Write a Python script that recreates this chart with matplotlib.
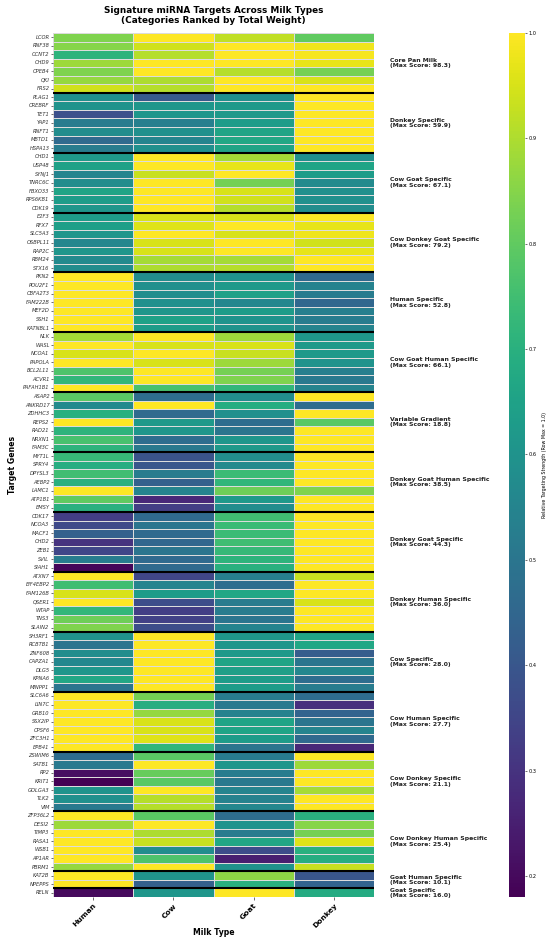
import matplotlib
matplotlib.use("Agg")
import matplotlib.pyplot as plt
import numpy as np
import pandas as pd
import seaborn as sns

milk_types = ["Human", "Cow", "Goat", "Donkey"]

group_names = ["Core Pan Milk", "Donkey Specific", "Cow Goat Specific", "Cow Donkey Goat Specific",
               "Human Specific", "Cow Goat Human Specific", "Variable Gradient",
               "Donkey Goat Human Specific", "Donkey Goat Specific", "Donkey Human Specific",
               "Cow Specific", "Cow Human Specific", "Cow Donkey Specific",
               "Cow Donkey Human Specific", "Goat Human Specific", "Goat Specific"]
group_sizes = [7, 7, 7, 7, 7, 7, 7, 7, 7, 7, 7, 7, 7, 7, 2, 1]
group_scores = [98.3, 59.9, 67.1, 79.2, 52.8, 66.1, 18.8, 38.5, 44.3, 36.0, 28.0, 27.7, 21.1, 25.4, 10.1, 16.0]

genes = ["LCOR", "RNF38", "CCNT2", "CHD9", "CPEB4", "QKI", "FRS2",
         "PLAG1", "CREBRF", "TET1", "YAP1", "RNFT1", "MBTD1", "HSPA13",
         "CHD1", "USP48", "SYNJ1", "TNRC6C", "FBXO33", "RPS6KB1", "CDK19",
         "E2F3", "RFX7", "SLC5A3", "OSBPL11", "RAP2C", "RBM24", "STX16",
         "PKN2", "POU2F1", "CBFA2T3", "FAM222B", "MEF2D", "SSH1", "KATNBL1",
         "NLK", "WASL", "NCOA1", "PAPOLA", "BCL2L11", "ACVR1", "PAFAH1B1",
         "ASAP2", "ANKRD17", "ZDHHC3", "REPS2", "RAD21", "NRXN1", "FAM3C",
         "MYT1L", "SPRY4", "DPYSL3", "AEBP2", "LAMC1", "ATP1B1", "EMSY",
         "CDK17", "NCOA3", "MACF1", "CHD2", "ZEB1", "SVIL", "SIAH1",
         "ATXN7", "EIF4EBP2", "FAM126B", "QSER1", "WTAP", "TNS3", "SLAIN2",
         "SH3RF1", "RCBTB1", "ZNF608", "CAPZA1", "DLG5", "KPNA6", "MINPP1",
         "SLC6A6", "LIN7C", "GRB10", "SSX2IP", "CPSF6", "ZFC3H1", "EPB41",
         "ZSWIM6", "SATB1", "RP2", "KRIT1", "GOLGA3", "TLK2", "VIM",
         "ZFP36L2", "DESI2", "TIMP3", "RASA1", "WSB1", "AP1AR", "PBRM1",
         "KAT2B", "NPEPPS",
         "RELN"]

human = [0.84, 0.85, 0.71, 0.88, 0.84, 0.87, 0.94,
         0.59, 0.60, 0.38, 0.52, 0.58, 0.46, 0.52,
         0.62, 0.65, 0.55, 0.58, 0.66, 0.63, 0.61,
         0.63, 0.64, 0.61, 0.56, 0.61, 0.57, 0.58,
         1.00, 1.00, 1.00, 1.00, 1.00, 1.00, 1.00,
         0.89, 1.00, 0.95, 1.00, 0.77, 0.72, 1.00,
         0.79, 0.57, 0.70, 1.00, 0.71, 0.76, 0.71,
         0.73, 0.69, 0.75, 0.70, 1.00, 0.80, 0.70,
         0.33, 0.36, 0.43, 0.30, 0.35, 0.52, 0.19,
         1.00, 0.75, 0.95, 1.00, 0.72, 0.82, 0.84,
         0.60, 0.50, 0.58, 0.56, 0.61, 0.67, 0.50,
         1.00, 1.00, 1.00, 1.00, 1.00, 1.00, 1.00,
         0.47, 0.51, 0.21, 0.18, 0.60, 0.59, 0.51,
         1.00, 0.88, 1.00, 1.00, 1.00, 1.00, 0.87,
         1.00, 1.00,
         0.20]

cow = [1.00, 0.94, 0.91, 1.00, 1.00, 0.90, 0.91,
       0.41, 0.61, 0.61, 0.53, 0.59, 0.55, 0.59,
       1.00, 1.00, 0.93, 1.00, 1.00, 1.00, 1.00,
       0.95, 0.96, 1.00, 0.95, 0.95, 0.89, 0.90,
       0.58, 0.59, 0.58, 0.59, 0.61, 0.65, 0.63,
       1.00, 0.95, 1.00, 0.95, 1.00, 1.00, 0.76,
       0.47, 1.00, 0.46, 0.62, 0.61, 0.47, 0.51,
       0.39, 0.40, 0.52, 0.43, 0.55, 0.27, 0.33,
       0.46, 0.50, 0.46, 0.45, 0.50, 0.46, 0.46,
       0.35, 0.55, 0.63, 0.37, 0.33, 0.34, 0.37,
       1.00, 1.00, 1.00, 1.00, 1.00, 1.00, 1.00,
       0.83, 0.69, 0.87, 0.95, 0.95, 0.96, 0.72,
       0.79, 1.00, 0.81, 0.79, 1.00, 0.91, 0.91,
       0.79, 1.00, 0.90, 0.93, 0.58, 0.77, 1.00,
       0.60, 0.43,
       0.61]

goat = [0.92, 1.00, 1.00, 1.00, 0.91, 1.00, 1.00,
        0.59, 0.62, 0.62, 0.63, 0.66, 0.67, 0.66,
        0.89, 0.97, 1.00, 0.83, 0.95, 0.94, 0.91,
        0.95, 1.00, 0.95, 1.00, 1.00, 0.89, 0.91,
        0.60, 0.62, 0.65, 0.56, 0.63, 0.60, 0.60,
        0.88, 0.95, 0.93, 0.88, 0.83, 0.84, 0.72,
        0.58, 0.69, 0.59, 0.47, 0.50, 0.61, 0.62,
        0.58, 0.57, 0.74, 0.72, 0.82, 0.62, 0.58,
        0.75, 0.74, 0.74, 0.75, 0.73, 0.71, 0.70,
        0.53, 0.47, 0.67, 0.52, 0.52, 0.50, 0.55,
        0.61, 0.61, 0.62, 0.66, 0.64, 0.63, 0.63,
        0.52, 0.51, 0.54, 0.66, 0.66, 0.63, 0.50,
        0.52, 0.61, 0.52, 0.51, 0.55, 0.54, 0.56,
        0.47, 0.60, 0.52, 0.67, 0.37, 0.25, 0.60,
        0.86, 0.70,
        1.00]

donkey = [0.80, 0.98, 0.99, 0.97, 0.83, 0.95, 1.00,
          1.00, 1.00, 1.00, 1.00, 1.00, 1.00, 1.00,
          0.59, 0.66, 0.63, 0.57, 0.59, 0.59, 0.58,
          1.00, 0.97, 0.98, 0.94, 0.97, 1.00, 1.00,
          0.46, 0.54, 0.52, 0.45, 0.53, 0.52, 0.55,
          0.61, 0.62, 0.62, 0.60, 0.53, 0.51, 0.55,
          1.00, 0.47, 1.00, 0.79, 1.00, 1.00, 1.00,
          1.00, 1.00, 1.00, 1.00, 0.84, 1.00, 1.00,
          1.00, 1.00, 1.00, 1.00, 1.00, 1.00, 1.00,
          0.93, 1.00, 1.00, 0.95, 1.00, 1.00, 1.00,
          0.66, 0.67, 0.42, 0.50, 0.56, 0.47, 0.52,
          0.47, 0.29, 0.44, 0.50, 0.55, 0.46, 0.27,
          1.00, 0.88, 1.00, 1.00, 0.89, 1.00, 1.00,
          0.70, 0.85, 0.83, 0.96, 0.70, 0.69, 0.93,
          0.40, 0.44,
          0.68]

df = pd.DataFrame({"Human": human, "Cow": cow, "Goat": goat, "Donkey": donkey}, index=genes)

fig = plt.figure(figsize=(5.5, 9.44), dpi=100)
ax = fig.add_axes([0.0964, 0.0498, 0.5836, 0.9153])
cax = fig.add_axes([0.9255, 0.0498, 0.029, 0.9153])

sns.heatmap(df[milk_types], ax=ax, cbar_ax=cax, cmap="viridis",
            linewidths=0.5, linecolor="#dcdcdc",
            cbar_kws={"label": "Relative Targeting Strength (Row Max = 1.0)"})

# black separators between categories
bounds = np.cumsum(group_sizes)
for b in bounds[:-1]:
    ax.axhline(b, color="black", lw=1.5)

# category labels on the right
start = 0
for name, size, score in zip(group_names, group_sizes, group_scores):
    mid = start + size / 2
    ax.text(4.2, mid, f"{name}\n(Max Score: {score:.1f})", fontsize=4.4, fontweight="bold",
            va="center", ha="left", color="#222222", linespacing=1.1, clip_on=False)
    start += size

ax.set_yticks(np.arange(len(genes)) + 0.5)
ax.set_yticklabels(genes, fontsize=3.7, style="italic", rotation=0, color="#333333")
ax.set_xticks(np.arange(len(milk_types)) + 0.5)
ax.set_xticklabels(milk_types, fontsize=5.4, fontweight="bold", rotation=45, ha="right",
                   va="top", rotation_mode="anchor")
ax.tick_params(axis="y", length=1.5, width=0.4, pad=1)
ax.tick_params(axis="x", length=2, width=0.4, pad=2)

ax.set_xlabel("Milk Type", fontsize=5.6, fontweight="bold")
ax.xaxis.set_label_coords(0.5, -0.036)
ax.set_ylabel("Target Genes", fontsize=5.6, fontweight="bold", labelpad=4)
ax.set_title("Signature miRNA Targets Across Milk Types\n(Categories Ranked by Total Weight)",
             fontsize=6.4, fontweight="bold", pad=7)

cax.tick_params(labelsize=3.6, length=1.5, width=0.4, pad=1)
cax.set_yticks([0.2, 0.3, 0.4, 0.5, 0.6, 0.7, 0.8, 0.9, 1.0])
cax.yaxis.label.set_size(3.4)

fig.savefig("out.png", dpi=100)
